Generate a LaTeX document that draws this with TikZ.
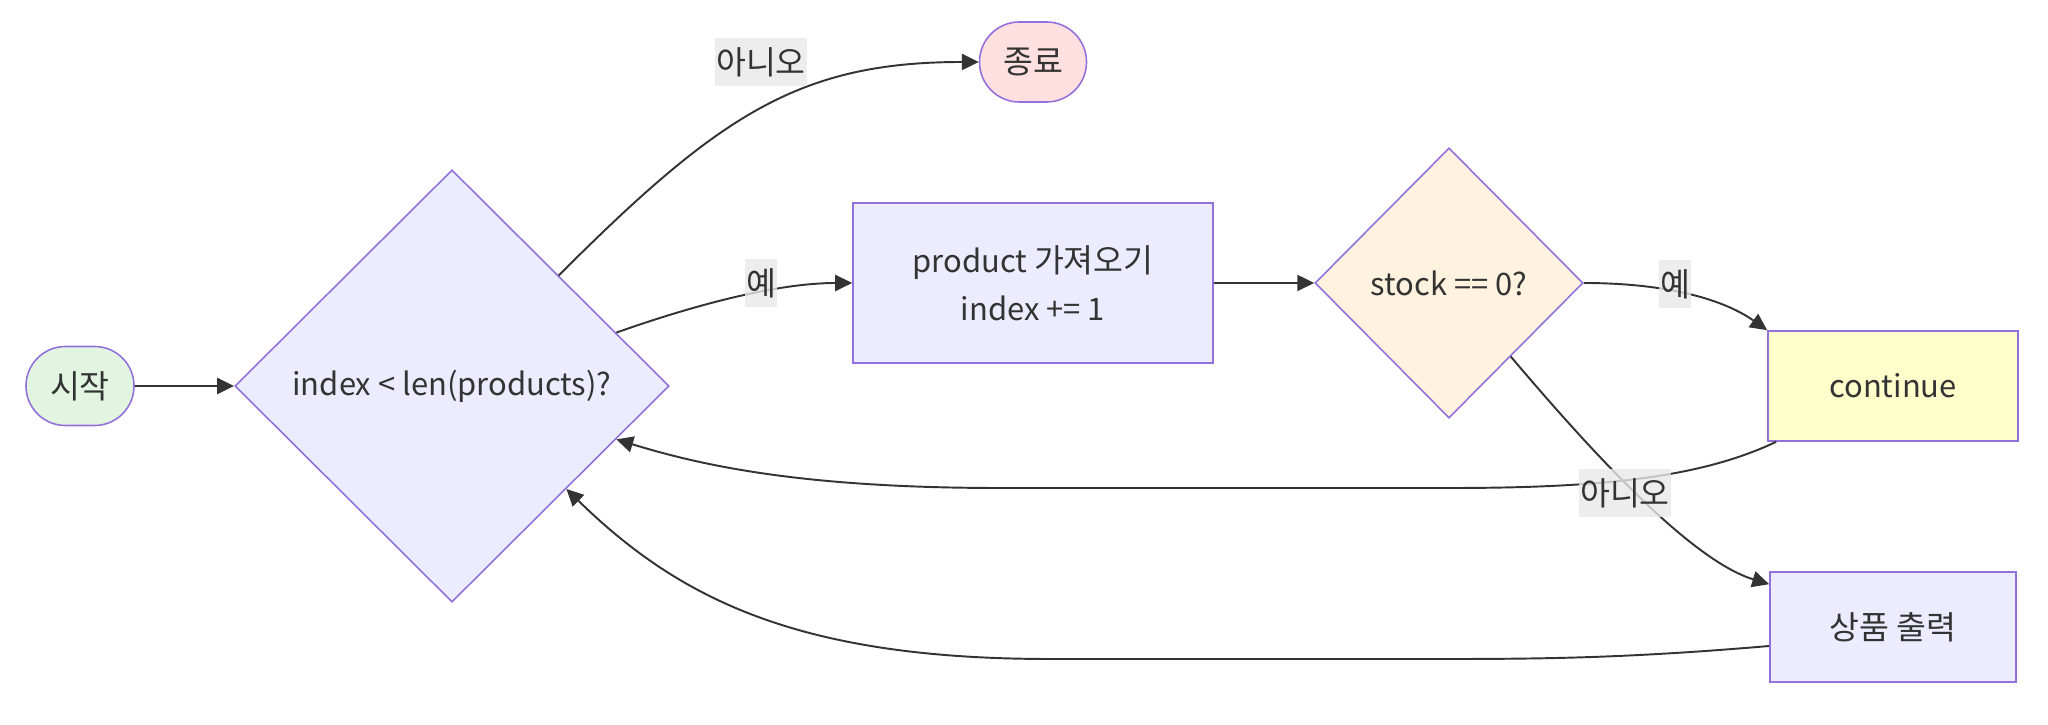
\documentclass[tikz,border=0pt]{standalone}
\usepackage{fontspec}
\setmainfont{Noto Sans CJK KR}
\newfontfamily\kr{Noto Sans CJK KR}[Scale=1.05]
\usepackage{xcolor}
\usepackage{tikz}
\usetikzlibrary{positioning, shapes, arrows.meta}
\definecolor{nodeline}{HTML}{9370DB}
\definecolor{ink}{HTML}{333333}
\definecolor{procfill}{HTML}{ECECFF}
\definecolor{startfill}{HTML}{E1F5E1}
\definecolor{stopfill}{HTML}{FFE0E0}
\definecolor{checkfill}{HTML}{FFF3E0}
\definecolor{contfill}{HTML}{FFFFCC}
\definecolor{lblbg}{HTML}{E8E8E8}

\begin{document}
\begin{tikzpicture}[x=0.01cm, y=-0.01cm,
        font=\fontsize{8.8}{13.7}\selectfont, text=ink,
        box/.style={draw=nodeline, line width=0.45pt, rectangle, inner sep=0pt},
        decision/.style={draw=nodeline, line width=0.45pt, diamond, inner sep=0pt},
        terminal/.style={draw=nodeline, line width=0.45pt, rounded rectangle, inner sep=0pt},
        flow/.style={draw=ink, line width=0.55pt, -{Triangle[length=4.8pt,width=4.6pt]}},
        lbl/.style={fill=lblbg, fill opacity=0.8, text opacity=1, inner xsep=0.3pt, inner ysep=0pt, minimum height=0.48cm}]
            \useasboundingbox (0,0) rectangle (2048,725);

            \node[terminal,fill=startfill,minimum width=1.08cm,minimum height=0.79cm] (start) at (80,386) {\kr 시작};
            \node[decision,fill=procfill,minimum width=4.34cm,minimum height=4.32cm] (cond) at (452,386) {index < len(products)?};
            \node[terminal,fill=stopfill,minimum width=1.07cm,minimum height=0.80cm] (stop) at (1033,62) {\kr 종료};
            \node[box,fill=procfill,minimum width=3.60cm,minimum height=1.60cm,align=center] (fetch) at (1033,283) {product {\kr 가져오기}\\index += 1};
            \node[decision,fill=checkfill,minimum width=2.68cm,minimum height=2.70cm] (stockchk) at (1449,283) {stock == 0?};
            \node[box,fill=contfill,minimum width=2.50cm,minimum height=1.10cm] (cont) at (1893,386) {continue};
            \node[box,fill=procfill,minimum width=2.46cm,minimum height=1.10cm] (show) at (1893,627) {\kr 상품 출력};

            \draw[flow] (start) -- (cond);
            \draw[flow] (cond.18) .. controls (700,303) and (780,283) .. (fetch.west);
            \draw[flow] (cond.46) .. controls (720,114) and (800,62) .. (stop.west);
            \draw[flow] (fetch) -- (stockchk);
            \draw[flow] (stockchk.east) .. controls (1660,283) and (1720,297) .. (cont.north west);
            \draw[flow] (stockchk.-50) .. controls (1590,450) and (1690,560) .. ([yshift=-0.13cm]show.north west);
            % back to the loop test
            \draw[flow] ([xshift=0.09cm]cont.south west) .. controls (1700,478) and (1600,488) .. (1450,488) -- (1000,488) .. controls (800,488) and (700,465) .. (cond.-18);
            \draw[flow] ([yshift=-0.19cm]show.west) .. controls (1640,657) and (1560,659) .. (1450,659) -- (1050,659) .. controls (800,659) and (680,600) .. (cond.-42);

            \node[lbl] (no1) at (761,62) {\kr 아니오};
            \node[lbl] (yes1) at (761,283) {\kr 예};
            \node[lbl] (yes2) at (1675,284) {\kr 예};
            \node[lbl] (no2) at (1625,493) {\kr 아니오};
        \end{tikzpicture}
\end{document}
